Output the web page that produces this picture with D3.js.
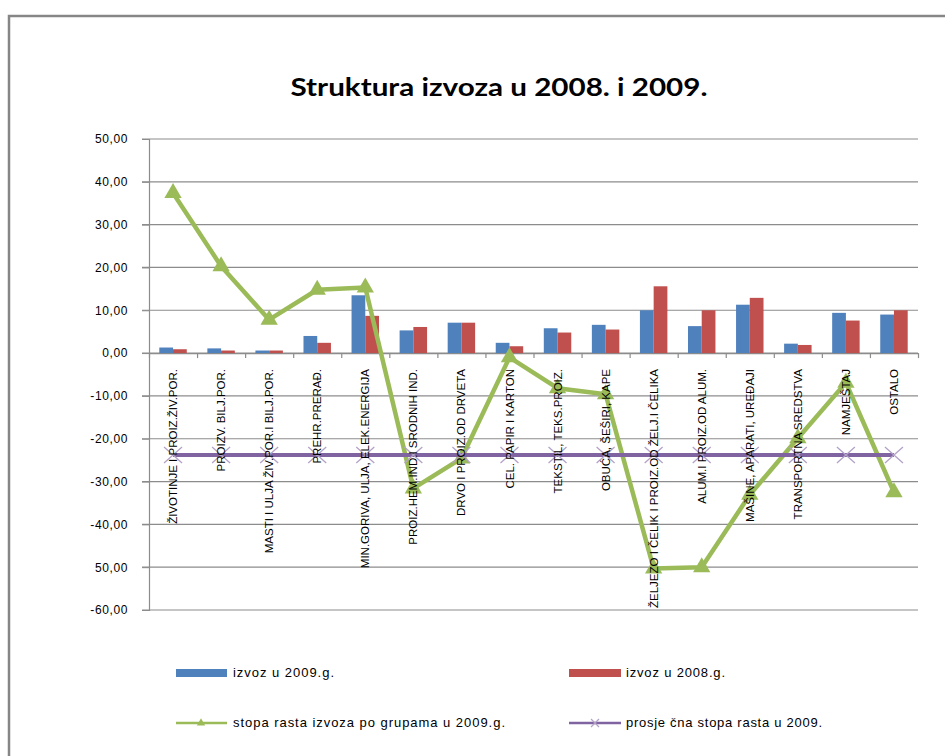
<!DOCTYPE html>
<html>
<head>
<meta charset="utf-8">
<script src="https://cdn.jsdelivr.net/npm/d3@7"></script>
<style>
  html, body { margin: 0; padding: 0; background: #fff; }
  svg { display: block; }
  .ytick text { font-family: "Liberation Sans", Arial, sans-serif; font-size: 12px; letter-spacing: 0.6px; fill: #000; }
  .cat-label { font-family: "Liberation Sans Narrow", "Arial Narrow", "Liberation Sans", sans-serif; font-size: 11.5px; fill: #000; }
  .legend text { font-family: "Liberation Sans", Arial, sans-serif; font-size: 13px; fill: #000; }
</style>
</head>
<body>
<div id="chart"></div>
<script>
// chart values
const categories = [
  "ŽIVOTINJE I PROIZ.ŽIV.POR.",
  "PROIZV. BILJ.POR.",
  "MASTI I ULJA ŽIV.POR.I BILJ.POR.",
  "PREHR.PRERAĐ.",
  "MIN.GORIVA, ULJA, ELEK.ENERGIJA",
  "PROIZ.HEM.IND.I SRODNIH IND.",
  "DRVO I PROIZ.OD DRVETA",
  "CEL. PAPIR I KARTON",
  "TEKSTIL, TEKS.PROIZ.",
  "OBUĆA, ŠEŠIRI, KAPE",
  "ŽELJEZO I ČELIK I PROIZ.OD ŽELJ.I ČELIKA",
  "ALUM.I PROIZ.OD ALUM.",
  "MAŠINE, APARATI, UREĐAJI",
  "TRANSPORTNA SREDSTVA",
  "NAMJEŠTAJ",
  "OSTALO"
]
const izvoz2009 = [1.3, 1.1, 0.6, 4.0, 13.5, 5.3, 7.1, 2.4, 5.8, 6.6, 10.0, 6.3, 11.3, 2.2, 9.4, 9.0]
const izvoz2008 = [0.9, 0.6, 0.6, 2.4, 8.7, 6.1, 7.1, 1.6, 4.8, 5.5, 15.6, 10.0, 12.9, 1.9, 7.6, 10.0]
const stopaRasta = [37.4, 20.3, 7.8, 14.8, 15.3, -31.6, -24.6, -1.0, -8.2, -9.6, -50.3, -50.0, -33.1, -19.9, -6.9, -32.5]
const prosjecnaStopa = [-23.8, -23.8, -23.8, -23.8, -23.8, -23.8, -23.8, -23.8, -23.8, -23.8, -23.8, -23.8, -23.8, -23.8, -23.8, -23.8]
const yTicks = [50, 40, 30, 20, 10, 0, -10, -20, -30, -40, -50, -60]
const yTickLabels = ["50,00", "40,00", "30,00", "20,00", "10,00", "0,00", "-10,00", "-20,00", "-30,00", "-40,00", "50,00", "-60,00"]
const seriesNames = ["izvoz u 2009.g.", "izvoz u 2008.g.", "stopa rasta izvoza po grupama u 2009.g.", "prosje čna stopa rasta u 2009."]

const blue = "#4F81BD", red = "#C0504D", green = "#9BBB59", purple = "#8064A2", lilac = "#B3A2C7"
const gridColor = "#8c8c8c"

const W = 945, H = 756
const plot = { left: 149, right: 918, top: 139, bottom: 610 }

const svg = d3.select("#chart").append("svg")
  .attr("width", W).attr("height", H)

// outer frame of the chart object
svg.append("rect")
  .attr("x", 9).attr("y", 16)
  .attr("width", W + 20).attr("height", H + 20)
  .attr("fill", "none").attr("stroke", "#868686").attr("stroke-width", 2.5)

// title
svg.append("text")
  .attr("x", 499).attr("y", 96)
  .attr("text-anchor", "middle")
  .attr("textLength", 417).attr("lengthAdjust", "spacingAndGlyphs")
  .style("font-family", "Lato, 'Open Sans', sans-serif")
  .style("font-weight", "bold").style("font-size", "25px")
  .text("Struktura izvoza u 2008. i 2009.")

// scales
const x = d3.scaleBand().domain(categories).range([plot.left, plot.right])
const xSeries = d3.scaleBand().domain(["2009", "2008"])
  .range([0, x.bandwidth()]).paddingOuter(0.75)
const xEdges = d3.scaleLinear().domain([0, categories.length]).range([plot.left, plot.right])
const y = d3.scaleLinear().domain([-60, 50]).range([plot.bottom, plot.top])

// grid lines
svg.append("g").selectAll("line")
  .data(yTicks)
  .enter().append("line")
  .attr("x1", plot.left - 7).attr("x2", plot.right)
  .attr("y1", d => y(d)).attr("y2", d => y(d))
  .attr("stroke", gridColor).attr("stroke-width", 1.2)

// y axis
const yAxis = d3.axisLeft(y)
  .tickValues(yTicks)
  .tickFormat((d, i) => yTickLabels[i])
  .tickSize(7).tickPadding(14)
svg.append("g")
  .attr("class", "ytick")
  .attr("transform", "translate(" + plot.left + ",0)")
  .call(yAxis)
  .call(g => g.select(".domain").attr("stroke", gridColor).attr("stroke-width", 1.2))
  .call(g => g.selectAll(".tick line").attr("stroke", gridColor))

// category axis at zero
const xAxis = d3.axisBottom(xEdges)
  .tickValues(d3.range(categories.length + 1))
  .tickFormat("")
  .tickSize(5).tickSizeOuter(0)
svg.append("g")
  .attr("transform", "translate(0," + y(0) + ")")
  .call(xAxis)
  .call(g => g.select(".domain").attr("stroke", gridColor).attr("stroke-width", 1.2))
  .call(g => g.selectAll(".tick line").attr("stroke", gridColor).attr("stroke-width", 1.2))

// bars
const barGroups = svg.append("g").selectAll("g")
  .data(categories)
  .enter().append("g")
  .attr("transform", d => "translate(" + x(d) + ",0)")

barGroups.append("rect")
  .attr("x", xSeries("2009"))
  .attr("width", xSeries.bandwidth())
  .attr("y", (d, i) => y(izvoz2009[i]))
  .attr("height", (d, i) => y(0) - y(izvoz2009[i]))
  .attr("fill", blue)

barGroups.append("rect")
  .attr("x", xSeries("2008"))
  .attr("width", xSeries.bandwidth())
  .attr("y", (d, i) => y(izvoz2008[i]))
  .attr("height", (d, i) => y(0) - y(izvoz2008[i]))
  .attr("fill", red)

const cx = (d, i) => x(categories[i]) + x.bandwidth() / 2

// growth rate line with triangles
const line = d3.line().x((d, i) => cx(d, i)).y(d => y(d))
svg.append("path")
  .datum(stopaRasta)
  .attr("d", line)
  .attr("fill", "none").attr("stroke", green)
  .attr("stroke-width", 4.5).attr("stroke-linejoin", "round")

const tri = d3.symbol(d3.symbolTriangle).size(130)
svg.append("g").selectAll("path")
  .data(stopaRasta)
  .enter().append("path")
  .attr("d", tri)
  .attr("transform", (d, i) => "translate(" + cx(d, i) + "," + y(d) + ")")
  .attr("fill", green)

// average growth line with x markers
svg.append("path")
  .datum(prosjecnaStopa)
  .attr("d", line)
  .attr("fill", "none").attr("stroke", purple).attr("stroke-width", 4)

svg.append("g").selectAll("path")
  .data(prosjecnaStopa)
  .enter().append("path")
  .attr("d", "M-9,-8L9,8M-9,8L9,-8")
  .attr("transform", (d, i) => "translate(" + cx(d, i) + "," + y(d) + ")")
  .attr("fill", "none").attr("stroke", lilac).attr("stroke-width", 1.3)

// category labels, rotated
svg.append("g").selectAll("text")
  .data(categories)
  .enter().append("text")
  .attr("class", "cat-label")
  .attr("transform", d => "translate(" + (x(d) + x.bandwidth() / 2) + "," + 369 + ") rotate(-90)")
  .attr("text-anchor", "end")
  .attr("dy", "0.35em")
  .text(d => d)

// legend
const legend = svg.append("g").attr("class", "legend")
const legendPos = [
  { x: 176, y: 673, w: 101 },
  { x: 569, y: 673, w: 99 },
  { x: 176, y: 723, w: 272 },
  { x: 569, y: 723, w: 196 }
]
legend.append("rect").attr("x", legendPos[0].x).attr("y", legendPos[0].y - 4)
  .attr("width", 51).attr("height", 8).attr("fill", blue)
legend.append("rect").attr("x", legendPos[1].x).attr("y", legendPos[1].y - 4)
  .attr("width", 52).attr("height", 8).attr("fill", red)
legend.append("line").attr("x1", legendPos[2].x).attr("x2", legendPos[2].x + 51)
  .attr("y1", legendPos[2].y).attr("y2", legendPos[2].y)
  .attr("stroke", green).attr("stroke-width", 2.5)
legend.append("path").attr("d", d3.symbol(d3.symbolTriangle).size(30))
  .attr("transform", "translate(" + (legendPos[2].x + 25) + "," + legendPos[2].y + ")")
  .attr("fill", green)
legend.append("line").attr("x1", legendPos[3].x).attr("x2", legendPos[3].x + 52)
  .attr("y1", legendPos[3].y).attr("y2", legendPos[3].y)
  .attr("stroke", purple).attr("stroke-width", 2.5)
legend.append("path").attr("d", "M-4,-4L4,4M-4,4L4,-4")
  .attr("transform", "translate(" + (legendPos[3].x + 26) + "," + legendPos[3].y + ")")
  .attr("fill", "none").attr("stroke", lilac).attr("stroke-width", 1.2)

legend.selectAll("text")
  .data(seriesNames)
  .enter().append("text")
  .attr("x", (d, i) => legendPos[i].x + 57)
  .attr("y", (d, i) => legendPos[i].y + 4)
  .attr("textLength", (d, i) => legendPos[i].w)
  .attr("lengthAdjust", "spacing")
  .text(d => d)
</script>
</body>
</html>
